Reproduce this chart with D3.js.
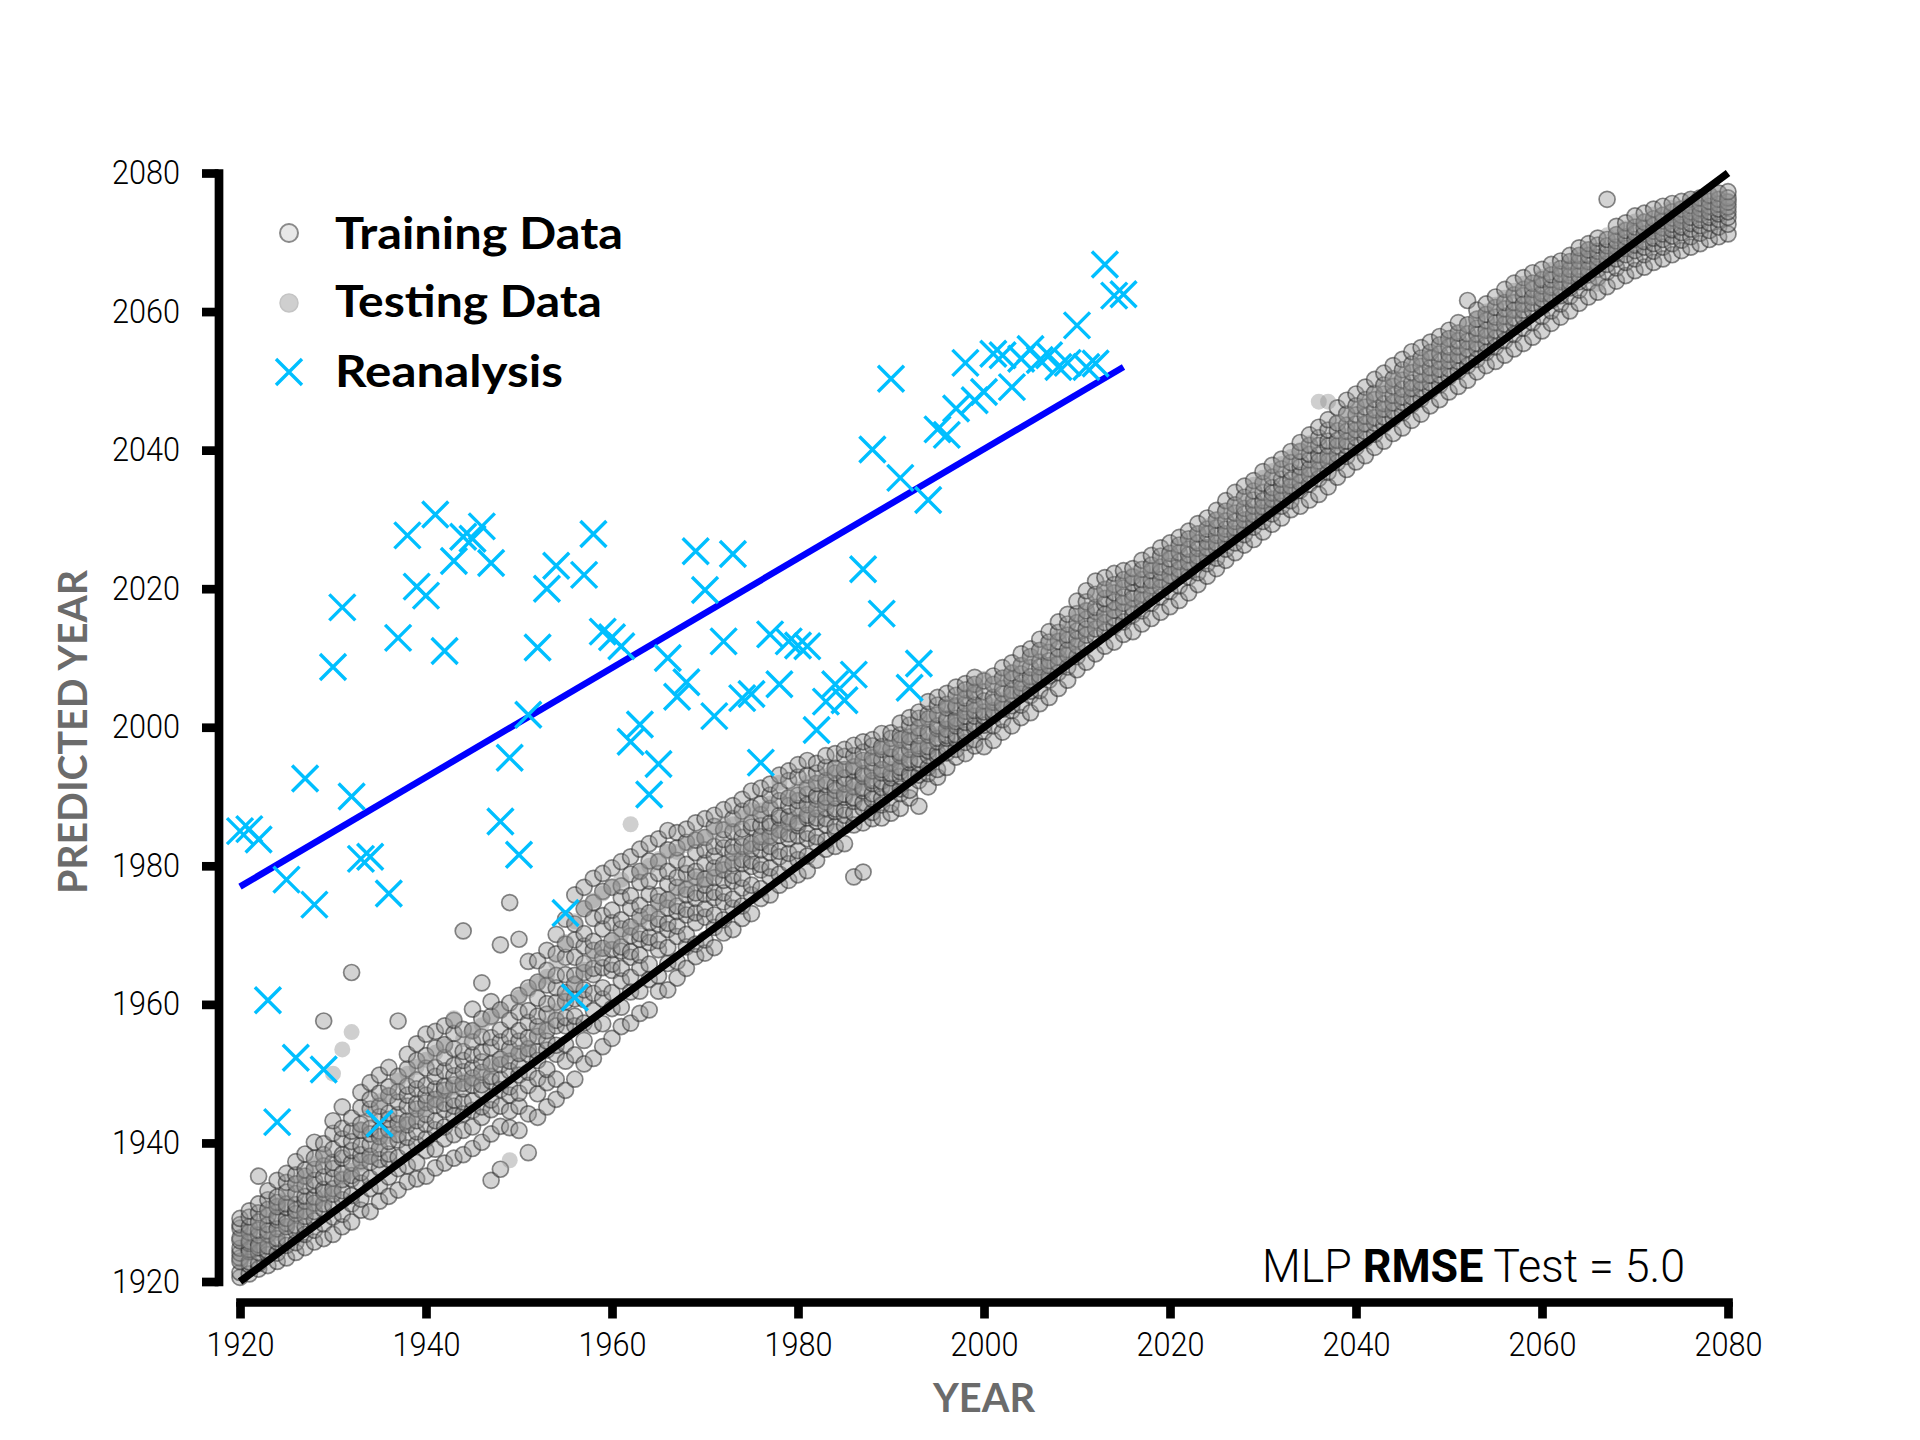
<!DOCTYPE html>
<html>
<head>
<meta charset="utf-8">
<script src="https://cdn.jsdelivr.net/npm/d3@7"></script>
<style>
  html, body { margin: 0; padding: 0; background: #fff; }
  svg { display: block; }
  text { white-space: pre; }
</style>
</head>
<body>
<script>
// ---------------- DATA ----------------
const xTicks = [1920, 1940, 1960, 1980, 2000, 2020, 2040, 2060, 2080];
const yTicks = [1920, 1940, 1960, 1980, 2000, 2020, 2040, 2060, 2080];

// Training data: [year, predicted years...]
const trainRows = [
[1920,1920.6,1921.3,1922.9,1923.4,1924.1,1924.8,1925.9,1926.3,1927.7,1928.2,1929.1],
[1921,1921.1,1922.4,1922.8,1924.3,1924.6,1925.5,1925.8,1927.1,1927.9,1929.3,1930.2],
[1922,1921.8,1922.6,1924.2,1924.9,1925.3,1926.7,1927.4,1928.6,1929.9,1931.2,1935.2],
[1923,1922.3,1923.9,1924.4,1925.1,1926.8,1927.3,1928.2,1929.5,1930.4,1931.8,1933.1],
[1924,1922.9,1924.1,1925.7,1926.2,1927.6,1928.9,1929.3,1930.8,1931.4,1932.2,1934.6],
[1925,1923.4,1925.2,1926.1,1927.9,1928.4,1929.1,1930.7,1931.2,1932.9,1934.3,1935.6],
[1926,1924.2,1925.6,1927.3,1928.1,1929.8,1930.3,1931.1,1932.7,1934.1,1935.4,1937.3],
[1927,1924.9,1926.8,1927.9,1929.4,1930.2,1931.6,1932.3,1933.8,1935.2,1936.1,1938.4],
[1928,1925.7,1927.4,1928.8,1930.1,1931.3,1932.2,1933.9,1934.6,1936.2,1937.8,1940.1],
[1929,1926.2,1928.3,1930.4,1931.2,1932.8,1933.3,1935.1,1936.7,1938.3,1939.9,1957.6],
[1930,1926.8,1929.3,1930.9,1932.6,1933.4,1934.9,1936.3,1937.2,1939.1,1941.4,1943.2],
[1931,1927.9,1929.7,1931.8,1933.1,1934.7,1935.6,1937.8,1938.3,1940.6,1942.1,1945.2],
[1932,1928.6,1931.2,1932.4,1934.8,1935.3,1937.1,1938.9,1940.2,1941.7,1943.6,1964.6],
[1933,1930.3,1931.9,1934.2,1935.7,1937.4,1938.3,1939.6,1941.8,1942.7,1945.1,1947.3],
[1934,1930.1,1933.4,1934.9,1937.2,1938.1,1939.8,1941.3,1942.1,1944.9,1946.3,1948.7],
[1935,1931.6,1933.8,1936.4,1937.6,1939.2,1940.9,1941.7,1943.8,1945.3,1947.2,1949.8],
[1936,1932.3,1935.1,1937.6,1938.4,1940.2,1941.9,1943.4,1944.3,1946.8,1948.1,1950.9],
[1937,1933.2,1936.3,1937.9,1940.4,1941.2,1942.8,1944.1,1945.9,1947.4,1949.6,1957.6],
[1938,1934.4,1936.7,1939.3,1940.8,1942.6,1943.2,1945.3,1946.9,1948.2,1950.7,1952.8],
[1939,1934.8,1937.2,1939.8,1941.6,1943.2,1944.9,1945.7,1947.8,1949.1,1951.9,1954.3],
[1940,1935.2,1938.9,1940.6,1942.7,1944.1,1945.8,1946.9,1948.3,1950.8,1952.6,1955.7],
[1941,1936.4,1939.1,1941.9,1943.2,1945.4,1946.3,1947.8,1949.6,1950.9,1953.7,1956.1],
[1942,1937.1,1940.6,1942.3,1944.8,1945.7,1947.6,1948.2,1950.4,1952.3,1954.2,1956.9],
[1943,1937.8,1941.2,1943.9,1945.3,1946.2,1948.4,1949.7,1951.2,1953.6,1955.8,1957.7],
[1944,1938.3,1941.8,1944.2,1945.9,1947.8,1948.6,1950.3,1951.9,1953.2,1956.4,1970.6],
[1945,1939.2,1942.3,1944.7,1946.1,1948.3,1949.4,1950.8,1952.7,1954.6,1956.2,1959.3],
[1946,1940.1,1943.7,1945.2,1947.6,1948.4,1950.2,1951.7,1953.1,1955.3,1957.9,1963.1],
[1947,1934.6,1941.3,1944.8,1946.2,1948.9,1949.6,1951.4,1953.8,1955.2,1958.3,1960.4],
[1948,1936.2,1942.4,1945.3,1947.7,1949.2,1951.3,1952.1,1954.6,1956.3,1959.2,1968.6],
[1949,1942.2,1944.6,1946.9,1948.1,1950.4,1951.8,1953.6,1955.3,1957.7,1960.2,1974.7],
[1950,1941.8,1945.3,1947.2,1949.8,1951.1,1952.9,1954.7,1956.2,1958.9,1961.3,1969.4],
[1951,1938.6,1944.2,1948.3,1950.2,1952.8,1953.6,1955.2,1957.4,1959.1,1962.4,1966.2],
[1952,1943.7,1947.1,1949.3,1951.9,1953.2,1955.4,1956.8,1958.3,1960.9,1963.2,1966.3],
[1953,1945.2,1948.7,1950.6,1953.4,1954.7,1956.2,1958.6,1960.1,1962.8,1964.9,1967.8],
[1954,1946.3,1949.2,1952.8,1954.1,1956.9,1957.7,1960.3,1962.4,1964.2,1967.3,1970.1],
[1955,1947.6,1951.8,1954.2,1956.9,1958.1,1960.4,1961.7,1964.3,1966.8,1968.7,1972.3],
[1956,1949.2,1952.7,1956.9,1958.3,1960.8,1962.9,1964.2,1966.8,1969.3,1971.6,1975.8],
[1957,1951.4,1954.8,1957.3,1960.7,1962.1,1964.6,1965.9,1968.4,1970.2,1973.8,1976.9],
[1958,1952.2,1956.9,1959.1,1961.6,1964.3,1965.2,1967.8,1969.1,1972.4,1974.7,1978.2],
[1959,1953.9,1957.2,1960.8,1962.4,1965.3,1966.7,1968.1,1970.9,1972.8,1976.3,1978.9],
[1960,1955.1,1959.4,1961.7,1964.9,1965.8,1967.9,1969.2,1971.8,1973.6,1976.9,1979.7],
[1961,1956.8,1959.6,1963.4,1965.2,1967.7,1968.3,1970.9,1972.2,1975.4,1977.1,1980.6],
[1962,1957.3,1961.8,1963.9,1966.8,1967.6,1969.9,1971.2,1973.9,1975.7,1978.8,1981.3],
[1963,1958.7,1961.9,1965.3,1967.1,1969.4,1970.2,1972.7,1974.3,1977.6,1979.2,1982.4],
[1964,1959.2,1963.6,1965.8,1968.9,1969.7,1971.8,1973.2,1975.9,1977.8,1980.7,1983.2],
[1965,1961.9,1964.1,1967.9,1969.2,1971.6,1972.3,1974.8,1975.7,1978.9,1980.6,1983.9],
[1966,1962.1,1965.9,1968.2,1970.8,1971.7,1973.9,1975.1,1977.4,1979.2,1982.3,1985.1],
[1967,1963.8,1966.2,1969.8,1971.3,1973.4,1974.2,1976.9,1978.3,1980.8,1982.6,1984.8],
[1968,1965.2,1968.3,1970.1,1972.9,1973.7,1975.8,1976.6,1978.9,1980.2,1983.4,1985.3],
[1969,1966.9,1968.7,1971.8,1973.2,1975.3,1976.1,1978.4,1979.2,1981.9,1983.7,1986.2],
[1970,1967.4,1969.3,1972.6,1973.8,1975.9,1977.2,1978.1,1980.4,1982.3,1984.1,1986.8],
[1971,1968.2,1971.1,1972.9,1975.4,1976.2,1978.3,1979.7,1981.4,1982.8,1985.7,1987.3],
[1972,1970.3,1972.2,1974.8,1976.1,1977.9,1979.4,1980.2,1982.6,1983.8,1985.2,1988.1],
[1973,1970.8,1973.9,1975.2,1977.8,1978.6,1980.3,1981.9,1982.8,1984.9,1986.8,1988.7],
[1974,1972.4,1974.2,1976.8,1978.2,1980.3,1980.9,1982.8,1984.1,1985.3,1987.9,1989.6],
[1975,1973.1,1975.8,1977.2,1979.9,1980.7,1982.4,1983.2,1985.6,1986.2,1988.4,1990.8],
[1976,1975.3,1976.7,1979.4,1980.2,1982.3,1983.4,1984.2,1985.8,1987.4,1988.9,1991.2],
[1977,1975.8,1978.4,1979.7,1981.9,1982.8,1984.3,1985.7,1986.2,1988.3,1990.2,1991.8],
[1978,1977.2,1978.8,1981.3,1982.1,1984.4,1985.2,1986.9,1987.3,1989.4,1990.8,1993.1],
[1979,1977.9,1980.3,1981.8,1983.9,1984.6,1986.3,1987.1,1988.7,1989.8,1992.3,1993.7],
[1980,1978.7,1980.9,1982.2,1984.3,1985.8,1986.2,1988.3,1989.4,1990.2,1992.8,1994.6],
[1981,1979.3,1981.4,1983.9,1984.7,1986.9,1987.3,1988.8,1990.3,1991.2,1993.1,1995.2],
[1982,1980.8,1983.3,1984.2,1986.4,1986.9,1988.2,1989.6,1990.1,1991.9,1993.4,1994.8],
[1983,1982.4,1983.6,1985.9,1986.8,1988.3,1989.2,1989.9,1991.7,1992.3,1994.2,1995.9],
[1984,1982.8,1984.9,1985.7,1987.8,1988.2,1989.8,1990.9,1991.6,1993.4,1994.1,1996.2],
[1985,1983.2,1985.8,1987.3,1988.1,1989.9,1990.3,1991.8,1992.7,1993.9,1995.8,1996.8],
[1986,1978.4,1985.9,1987.6,1989.3,1989.8,1991.4,1992.2,1993.8,1994.3,1995.9,1997.4],
[1987,1979.1,1986.2,1988.3,1989.1,1990.8,1991.2,1992.9,1993.3,1995.2,1996.4,1997.9],
[1988,1986.8,1987.7,1989.6,1990.4,1991.9,1992.3,1993.7,1994.9,1995.6,1997.3,1998.2],
[1989,1986.9,1988.8,1989.7,1991.3,1992.2,1993.4,1993.9,1995.3,1996.8,1997.2,1999.1],
[1990,1987.6,1988.9,1990.8,1991.2,1992.7,1993.3,1994.8,1995.7,1996.9,1998.4,1999.2],
[1991,1988.3,1990.4,1991.1,1992.9,1993.6,1994.2,1995.9,1996.3,1998.2,1998.9,2000.6],
[1992,1989.8,1990.9,1992.8,1993.2,1994.9,1995.3,1996.8,1997.9,1998.6,2000.3,2001.4],
[1993,1988.6,1992.3,1993.1,1994.8,1995.4,1996.9,1997.3,1998.8,1999.9,2001.3,2002.2],
[1994,1991.4,1993.3,1994.2,1995.9,1996.6,1997.2,1998.9,1999.3,2001.2,2001.9,2003.7],
[1995,1992.8,1993.9,1995.7,1996.3,1997.9,1998.4,1999.8,2000.2,2001.8,2003.2,2004.3],
[1996,1994.2,1996.3,1996.9,1998.4,1998.8,1999.7,2000.9,2001.2,2002.8,2003.3,2004.9],
[1997,1995.7,1996.8,1998.3,1998.9,2000.2,2000.8,2001.3,2002.9,2003.1,2004.6,2005.8],
[1998,1996.2,1997.8,1998.9,1999.3,2000.7,2001.6,2002.3,2003.4,2004.2,2005.4,2006.3],
[1999,1997.3,1998.2,1999.8,2000.3,2001.6,2002.4,2003.2,2004.7,2005.1,2006.2,2007.2],
[2000,1997.2,1999.4,2000.3,2001.6,2002.2,2003.8,2005.1,2006.7],
[2001,1998.1,2000.2,2001.7,2002.4,2003.6,2004.3,2006.2,2007.4],
[2002,1999.3,2001.1,2002.6,2003.3,2004.8,2005.6,2007.1,2008.6],
[2003,2000.2,2002.4,2003.1,2004.7,2005.3,2006.9,2007.8,2009.3],
[2004,2001.4,2003.2,2004.8,2005.6,2006.4,2007.7,2008.9,2010.6],
[2005,2002.1,2004.6,2005.2,2006.8,2007.3,2008.6,2010.2,2011.3],
[2006,2003.4,2005.3,2006.9,2007.5,2008.7,2009.4,2011.1,2012.7],
[2007,2004.3,2006.8,2007.4,2008.9,2009.6,2010.8,2012.3,2013.8],
[2008,2005.6,2007.9,2009.2,2010.1,2011.3,2012.4,2013.7,2015.2],
[2009,2006.8,2008.7,2010.4,2011.2,2012.6,2013.3,2014.9,2016.3],
[2010,2008.3,2010.2,2011.8,2012.7,2013.9,2015.1,2016.4,2018.2],
[2011,2009.4,2011.8,2013.3,2014.2,2015.6,2016.8,2018.1,2019.7],
[2012,2010.6,2012.9,2014.2,2015.4,2016.7,2017.3,2019.2,2021.1],
[2013,2011.7,2013.8,2015.1,2016.3,2017.8,2018.6,2019.9,2021.6],
[2014,2012.3,2014.6,2015.8,2016.9,2018.1,2019.4,2020.6,2022.2],
[2015,2013.4,2015.2,2016.7,2017.9,2018.8,2020.1,2021.3,2022.6],
[2016,2013.8,2016.2,2017.1,2018.6,2019.4,2020.8,2021.7,2022.9],
[2017,2014.9,2016.8,2018.3,2019.2,2020.6,2021.3,2022.8,2024.1],
[2018,2015.7,2017.9,2019.1,2020.4,2021.2,2022.6,2023.4,2024.8],
[2019,2016.6,2018.8,2020.2,2021.3,2022.4,2023.1,2024.7,2025.9],
[2020,2017.4,2019.6,2020.8,2021.9,2023.2,2024.3,2025.1,2026.6],
[2021,2018.3,2020.4,2021.9,2022.8,2023.9,2025.2,2026.3,2027.4],
[2022,2019.4,2021.7,2022.6,2023.8,2024.9,2025.7,2027.2,2028.3],
[2023,2020.6,2022.3,2023.9,2024.7,2025.8,2026.6,2027.9,2029.4],
[2024,2021.8,2023.6,2024.7,2025.9,2026.8,2027.9,2028.6,2030.2],
[2025,2022.9,2024.4,2025.8,2026.6,2027.7,2028.8,2029.9,2031.3],
[2026,2024.1,2025.7,2026.8,2027.9,2028.6,2029.8,2031.2,2032.7],
[2027,2025.2,2026.6,2027.9,2028.8,2029.7,2030.9,2032.1,2033.9],
[2028,2026.3,2027.8,2028.7,2029.9,2030.8,2031.6,2033.2,2034.8],
[2029,2027.1,2028.9,2029.8,2030.7,2031.9,2032.8,2034.1,2035.6],
[2030,2028.2,2029.7,2030.9,2031.8,2032.7,2033.9,2035.2,2036.9],
[2031,2029.3,2030.8,2031.7,2032.9,2033.8,2034.6,2036.1,2037.8],
[2032,2030.2,2031.9,2032.8,2033.7,2034.9,2035.8,2037.3,2038.7],
[2033,2031.4,2032.7,2033.9,2034.8,2035.7,2036.9,2038.2,2039.8],
[2034,2031.9,2034.2,2035.3,2036.4,2037.6,2038.3,2039.8,2041.1],
[2035,2032.8,2035.1,2036.4,2037.3,2038.6,2039.4,2040.7,2042.2],
[2036,2033.6,2035.9,2037.2,2038.4,2039.3,2040.7,2041.8,2043.3],
[2037,2034.7,2036.8,2038.4,2039.2,2040.6,2041.3,2042.9,2044.4],
[2038,2036.1,2038.2,2039.3,2040.6,2041.4,2042.8,2043.9,2046.1],
[2039,2037.2,2039.1,2040.6,2041.3,2042.7,2043.6,2045.2,2047.2],
[2040,2038.3,2040.4,2041.8,2042.9,2043.8,2045.1,2046.4,2048.1],
[2041,2039.2,2041.6,2042.7,2043.8,2044.9,2046.2,2047.3,2049.1],
[2042,2040.4,2042.3,2043.9,2044.7,2045.8,2047.3,2048.2,2050.2],
[2043,2041.3,2043.7,2044.8,2045.9,2046.7,2048.1,2049.4,2051.1],
[2044,2042.4,2044.6,2045.7,2046.8,2047.9,2049.2,2050.3,2052.2],
[2045,2043.2,2045.4,2046.9,2047.7,2048.8,2050.1,2051.6,2053.1],
[2046,2044.3,2046.6,2047.7,2048.9,2049.7,2051.2,2052.4,2054.2],
[2047,2045.2,2047.4,2048.8,2049.8,2050.9,2052.1,2053.3,2054.8],
[2048,2046.4,2048.6,2049.7,2050.8,2051.9,2053.2,2054.1,2055.6],
[2049,2047.3,2049.4,2050.8,2051.7,2052.8,2053.9,2055.2,2056.4],
[2050,2048.4,2050.6,2051.7,2052.9,2053.8,2054.9,2056.1,2057.3],
[2051,2049.2,2051.4,2052.8,2053.7,2054.9,2055.8,2056.9,2058.4],
[2052,2050.1,2052.2,2053.4,2054.6,2055.7,2056.8,2058.1,2061.6],
[2053,2051.3,2053.1,2054.6,2055.4,2056.7,2057.6,2058.9,2060.2],
[2054,2052.2,2054.1,2055.3,2056.4,2057.3,2058.7,2059.6,2061.1],
[2055,2052.8,2054.9,2056.2,2057.3,2058.4,2059.2,2060.6,2062.1],
[2056,2053.7,2055.8,2057.1,2058.2,2059.3,2060.4,2061.3,2063.2],
[2057,2054.6,2056.7,2058.2,2059.1,2060.2,2061.3,2062.4,2064.1],
[2058,2055.4,2057.6,2059.1,2060.2,2061.1,2062.3,2063.2,2064.9],
[2059,2056.3,2058.4,2060.1,2061.2,2062.1,2063.2,2064.1,2065.6],
[2060,2057.2,2059.3,2060.7,2061.8,2062.6,2063.7,2064.6,2066.1],
[2061,2058.3,2060.1,2061.6,2062.4,2063.5,2064.6,2065.3,2066.8],
[2062,2059.2,2061.1,2062.3,2063.2,2064.3,2065.4,2066.2,2067.3],
[2063,2060.1,2062.2,2063.4,2064.3,2065.2,2066.1,2067.2,2068.1],
[2064,2061.2,2063.1,2064.3,2065.2,2066.1,2067.3,2068.1,2069.2],
[2065,2062.1,2064.2,2065.3,2066.1,2067.2,2068.1,2068.9,2069.8],
[2066,2062.8,2064.9,2066.1,2066.9,2067.8,2068.7,2069.6,2070.6],
[2067,2063.6,2065.7,2066.8,2067.7,2068.6,2069.5,2070.4,2076.2],
[2068,2064.4,2066.3,2067.6,2068.4,2069.3,2070.2,2071.1,2072.3],
[2069,2065.2,2067.1,2068.2,2069.1,2069.9,2070.8,2071.7,2072.8],
[2070,2065.9,2067.6,2068.8,2069.6,2070.4,2071.3,2072.2,2073.8],
[2071,2066.4,2068.2,2069.3,2070.1,2071.2,2072.1,2072.9,2074.2],
[2072,2067.1,2068.7,2069.8,2070.6,2071.6,2072.4,2073.4,2074.8],
[2073,2067.6,2069.3,2070.4,2071.2,2072.1,2073.1,2073.9,2075.2],
[2074,2068.2,2069.8,2070.9,2071.8,2072.6,2073.5,2074.4,2075.6],
[2075,2068.8,2070.3,2071.4,2072.2,2073.1,2073.9,2074.8,2075.9],
[2076,2069.3,2070.8,2071.9,2072.7,2073.6,2074.4,2075.3,2076.2],
[2077,2069.8,2071.3,2072.4,2073.2,2074.1,2074.9,2075.6,2076.4],
[2078,2070.4,2071.7,2072.8,2073.6,2074.4,2075.2,2075.9,2076.8],
[2079,2070.8,2072.2,2073.3,2074.1,2074.8,2075.5,2076.2,2077.1],
[2080,2071.2,2072.6,2073.6,2074.4,2075.1,2075.8,2076.4,2077.3]
];

// Testing data: [year, predicted years...]
const testRows = [
[1920,1923,1926],[1921,1924,1927],[1922,1925,1928],[1923,1926,1930],[1924,1927,1931],
[1925,1928,1932],[1926,1929,1934],[1927,1930,1935],[1928,1931,1937],[1929,1932,1938],
[1930,1933,1950],[1931,1935,1953.5],[1932,1936,1956],[1933,1937,1942],[1934,1938,1944],
[1935,1940,1946],[1936,1941,1947],[1937,1942,1949],[1938,1943,1950],[1939,1944,1951],
[1940,1945,1952],[1941,1946,1953],[1942,1947,1954],[1943,1948,1958],[1944,1949,1955],
[1945,1949,1956],[1946,1950,1957],[1947,1951,1958],[1948,1952,1959],[1949,1937.5,1953],
[1950,1953,1961],[1951,1954,1962],[1952,1956,1963],[1953,1957,1964],[1954,1959,1966],
[1955,1961,1969],[1956,1963,1972],[1957,1965,1974],[1958,1967,1975],[1959,1968,1976],
[1960,1969,1977],[1961,1970,1978],[1962,1971,1986],[1963,1972,1979],[1964,1973,1980],
[1965,1974,1981],[1966,1975,1982],[1967,1976,1982],[1968,1977,1983],[1969,1978,1984],
[1970,1978,1984],[1971,1979,1985],[1972,1980,1986],[1973,1981,1986],[1974,1982,1987],
[1975,1983,1988],[1976,1984,1988],[1977,1984,1989],[1978,1985,1992],[1979,1986,1990],
[1980,1987,1991],[1981,1988,1992],[1982,1988,1992],[1983,1989,1993],[1984,1990,1994],
[1985,1991,1994],[1986,1991,1995],[1987,1992,1995],[1988,1993,1996],[1989,1994,1997],
[1990,1994,1997],[1991,1995,1998],[1992,1996,1999],[1993,1997,2000],[1994,1998,2001],
[1995,1999,2002],[1996,2000,2003],[1997,2001,2004],[1998,2002,2005],[1999,2003,2006],
[2000,2003,2007],[2001,2003,2006],[2002,2004,2007],[2003,2005,2008],[2004,2006,2009],
[2005,2007,2010],[2006,2008,2011],[2007,2009,2012],[2008,2010,2013],[2009,2011,2014],
[2010,2012,2016],[2011,2014,2017],[2012,2015,2019],[2013,2016,2020],[2014,2017,2020],
[2015,2018,2021],[2016,2018,2022],[2017,2019,2022],[2018,2020,2023],[2019,2021,2024],
[2020,2022,2025],[2021,2023,2026],[2022,2024,2027],[2023,2025,2028],[2024,2026,2029],
[2025,2027,2030],[2026,2028,2031],[2027,2029,2032],[2028,2030,2033],[2029,2031,2035],
[2030,2032,2036],[2031,2033,2037],[2032,2034,2038],[2033,2035,2039],[2034,2036,2040],
[2035,2037,2041],[2036,2038,2047],[2037,2039,2047],[2038,2041,2044],[2039,2042,2045],
[2040,2043,2046],[2041,2044,2047],[2042,2045,2048],[2043,2046,2049],[2044,2047,2050],
[2045,2048,2051],[2046,2049,2052],[2047,2050,2053],[2048,2051,2054],[2049,2052,2055],
[2050,2053,2056],[2051,2054,2057],[2052,2055,2058],[2053,2056,2059],[2054,2057,2060],
[2055,2058,2061],[2056,2059,2062],[2057,2060,2063],[2058,2061,2064],[2059,2062,2064],
[2060,2062,2065],[2061,2063,2066],[2062,2064,2066],[2063,2065,2067],[2064,2066,2068],
[2065,2066,2069],[2066,2067,2064],[2067,2068,2071],[2068,2069,2071],[2069,2069,2072],
[2070,2070,2073],[2071,2071,2073],[2072,2071,2074],[2073,2072,2074],[2074,2073,2075],
[2075,2073,2075],[2076,2074,2076],[2077,2074,2076],[2078,2075,2077],[2079,2075,2077],
[2080,2075,2076]
];

// Reanalysis
const reanYear = [1920,1921,1922,1923,1924,1925,1926,1927,1928,1929,
  1930,1931,1932,1933,1934,1935,1936,1937,1938,1939,
  1940,1941,1942,1943,1944,1945,1946,1947,1948,1949,
  1950,1951,1952,1953,1954,1955,1956,1957,1958,1959,
  1960,1961,1962,1963,1964,1965,1966,1967,1968,1969,
  1970,1971,1972,1973,1974,1975,1976,1977,1978,1979,
  1980,1981,1982,1983,1984,1985,1986,1987,1988,1989,
  1990,1991,1992,1993,1994,1995,1996,1997,1998,1999,
  2000,2001,2002,2003,2004,2005,2006,2007,2008,2009,
  2010,2011,2012,2013,2014,2015];
const reanPred = [1985,1985.3,1983.8,1960.6,1943,1978,1952.3,1992.6,1974.4,1950.6,
  2008.7,2017.3,1990,1981,1981.3,1942.8,1976,2012.9,2027.7,2020.3,
  2019,2030.7,2011,2024,2027.5,2027.2,2029,2023.7,1986.4,1995.6,
  1981.6,2001.8,2011.5,2020,2023.3,1973.2,1961,2022,2027.9,2013.8,
  2013,2011.7,1997.9,2000.4,1990.3,1994.7,2010,2004.4,2006.5,2025.4,
  2019.8,2001.6,2012.4,2025,2004.2,2004.8,1994.9,2013.4,2006.2,2012.4,
  2011.8,2011.7,1999.6,2003.7,2006.2,2003.9,2007.6,2022.8,2040.1,2016.4,
  2050.3,2036,2005.7,2009.2,2032.8,2043,2042.2,2046,2052.6,2047.2,
  2048.4,2053.9,2053.7,2049.1,2053.2,2054.6,2053,2053.7,2052,2052.6,
  2058,2052,2052.5,2066.8,2062.3,2062.5];

// Reanalysis linear fit endpoints and 1:1 line
const fitX = [1920, 2015];
const fitY = [1977, 2052];
const oneX = [1920, 2080];
const oneY = [1920, 2080];

const legendLabels = ["Training Data", "Testing Data", "Reanalysis"];

// ---------------- CHART ----------------
const W = 1920, H = 1440;
const svg = d3.select("body").append("svg").attr("width", W).attr("height", H);

const x = d3.scaleLinear().domain([1920, 2080]).range([240, 1728]);
const y = d3.scaleLinear().domain([1920, 2080]).range([1281.5, 173]);

const trainPts = trainRows.flatMap(r => r.slice(1).map(v => [r[0], v]));
const testPts = testRows.flatMap(r => r.slice(1).map(v => [r[0], v]));

const plot = svg.append("g");

plot.append("g").selectAll("circle").data(trainPts).join("circle")
  .attr("cx", d => x(d[0])).attr("cy", d => y(d[1])).attr("r", 8)
  .attr("fill", "#969696").attr("fill-opacity", 0.42)
  .attr("stroke", "#2a2a2a").attr("stroke-opacity", 0.55).attr("stroke-width", 1.7);

plot.append("g").selectAll("circle").data(testPts).join("circle")
  .attr("cx", d => x(d[0])).attr("cy", d => y(d[1])).attr("r", 8)
  .attr("fill", "#8c8c8c").attr("fill-opacity", 0.42);

const line = d3.line().x(d => x(d[0])).y(d => y(d[1]));

plot.append("path").datum(oneX.map((v, i) => [v, oneY[i]]))
  .attr("d", line).attr("fill", "none").attr("stroke", "#000").attr("stroke-width", 7.5);

plot.append("path").datum(fitX.map((v, i) => [v, fitY[i]]))
  .attr("d", line).attr("fill", "none").attr("stroke", "#0000ff").attr("stroke-width", 6.5);

const xs = 13;
const cross = (g, cx, cy) => {
  g.append("path")
    .attr("d", `M${cx - xs},${cy - xs}L${cx + xs},${cy + xs}M${cx - xs},${cy + xs}L${cx + xs},${cy - xs}`)
    .attr("stroke", "#00bfff").attr("stroke-width", 3.4).attr("fill", "none");
};
const reanG = plot.append("g");
reanYear.forEach((yr, i) => cross(reanG, x(yr), y(reanPred[i])));

// ---------------- AXES ----------------
const tickFont = "Roboto, 'Open Sans', sans-serif";
const styleAxis = (g) => {
  g.select(".domain").attr("stroke", "#000").attr("stroke-width", 8.7).attr("stroke-linecap", "square");
  g.selectAll(".tick line").attr("stroke", "#000").attr("stroke-width", 8.7);
  g.selectAll(".tick text")
    .attr("font-family", tickFont).attr("font-weight", 300).attr("font-size", 33)
    .attr("fill", "#000").attr("textLength", 68).attr("lengthAdjust", "spacingAndGlyphs");
};

const yAxis = d3.axisLeft(y).tickValues(yTicks).tickSize(16.5).tickSizeOuter(0)
  .tickPadding(22).tickFormat(d3.format("d"));
svg.append("g").attr("transform", "translate(218.5,0)").call(yAxis).call(styleAxis)
  .attr("font-family", null).attr("font-size", null);

const xAxis = d3.axisBottom(x).tickValues(xTicks).tickSize(16.5).tickSizeOuter(0)
  .tickPadding(14).tickFormat(d3.format("d"));
svg.append("g").attr("transform", "translate(0,1302)").call(xAxis).call(styleAxis)
  .attr("font-family", null).attr("font-size", null);

// Axis labels
const labFont = "Lato, 'Open Sans', sans-serif";
svg.append("text").attr("x", 984).attr("y", 1412).attr("text-anchor", "middle")
  .attr("font-family", labFont).attr("font-weight", 700).attr("font-size", 40)
  .attr("fill", "#6b6b6b").attr("textLength", 102).attr("lengthAdjust", "spacingAndGlyphs")
  .text("YEAR");
svg.append("text").attr("transform", "translate(87,732) rotate(-90)").attr("text-anchor", "middle")
  .attr("font-family", labFont).attr("font-weight", 700).attr("font-size", 40)
  .attr("fill", "#6b6b6b").attr("textLength", 324).attr("lengthAdjust", "spacingAndGlyphs")
  .text("PREDICTED YEAR");

// Annotation
const ann = svg.append("text").attr("x", 1262).attr("y", 1282)
  .attr("font-family", tickFont).attr("font-weight", 300).attr("font-size", 47)
  .attr("fill", "#000").attr("textLength", 423).attr("lengthAdjust", "spacingAndGlyphs");
ann.append("tspan").text("MLP ");
ann.append("tspan").attr("font-weight", 700).text("RMSE");
ann.append("tspan").text(" Test = 5.0");

// Legend
const leg = svg.append("g");
const legY = [249, 317, 387];
const legW = [288, 267, 228];
leg.append("circle").attr("cx", 289).attr("cy", 233).attr("r", 9)
  .attr("fill", "#e8e8e8").attr("stroke", "#8a8a8a").attr("stroke-width", 2);
leg.append("circle").attr("cx", 289).attr("cy", 303).attr("r", 9)
  .attr("fill", "#cfcfcf").attr("stroke", "#c4c4c4").attr("stroke-width", 1.5);
cross(leg, 289, 372);
legendLabels.forEach((t, i) => {
  leg.append("text").attr("x", 335).attr("y", legY[i])
    .attr("font-family", labFont).attr("font-weight", 700).attr("font-size", 44)
    .attr("fill", "#000").attr("textLength", legW[i]).attr("lengthAdjust", "spacingAndGlyphs")
    .text(t);
});
</script>
</body>
</html>
